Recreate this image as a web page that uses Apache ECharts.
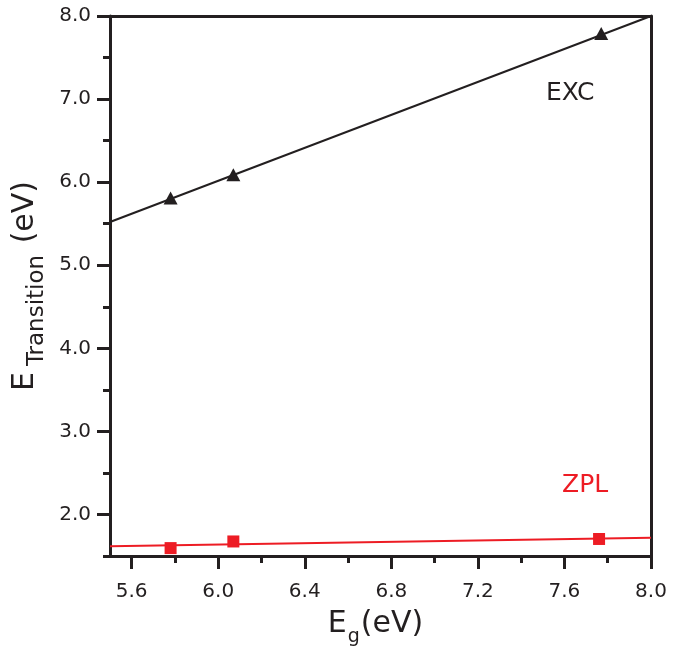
<!DOCTYPE html>
<html>
<head>
<meta charset="utf-8">
<script src="https://cdn.jsdelivr.net/npm/echarts@6/dist/echarts.min.js"></script>
<style>html,body{margin:0;padding:0;background:#fff}#c{width:689px;height:648px}</style>
</head>
<body>
<div id="c"></div>
<script>
// Data
const excX = [5.78, 6.07, 7.77];
const excY = [5.81, 6.09, 7.79];
const zplX = [5.78, 6.07, 7.76];
const zplY = [1.595, 1.675, 1.705];
const fitX = [5.5, 8.0];
const excFitY = [5.52, 8.0];
const zplFitY = [1.617, 1.721];
const xMajorTicks = [5.6, 6.0, 6.4, 6.8, 7.2, 7.6, 8.0];
const xMinorTicks = [5.8, 6.2, 6.6, 7.0, 7.4, 7.8];
const yMajorTicks = [2.0, 3.0, 4.0, 5.0, 6.0, 7.0, 8.0];
const yMinorTicks = [1.5, 2.5, 3.5, 4.5, 5.5, 6.5, 7.5];

const INK = '#231f20';
const RED = '#ed1c24';
const FONT = 'DejaVu Sans';

const zip = (a, b) => a.map((v, i) => [v, b[i]]);

const chart = echarts.init(document.getElementById('c'));
const line = { show: true, lineStyle: { color: INK, width: 3 } };
chart.setOption({
  animation: false,
  grid: { left: 110, right: 38, top: 16, bottom: 92, containLabel: false, outerBoundsMode: 'none' },
  xAxis: [
    { type: 'value', min: 5.5, max: 8.0, position: 'bottom',
      axisLine: { ...line, onZero: false },
      splitLine: { show: false },
      axisTick: { show: true, length: 13, inside: false, customValues: xMajorTicks, lineStyle: { color: INK, width: 3 } },
      axisLabel: { customValues: xMajorTicks, margin: 26, color: INK, fontFamily: FONT, fontSize: 20, formatter: v => v.toFixed(1) },
      name: '{m|E}{s|g}{e|(eV)}', nameLocation: 'middle', nameGap: 51,
      nameTextStyle: { rich: {
        m: { fontFamily: FONT, fontSize: 30, color: INK, verticalAlign: 'bottom', lineHeight: 40, padding: [0, 0, 8, 0] },
        e: { fontFamily: FONT, fontSize: 30, color: INK, verticalAlign: 'bottom', lineHeight: 40, padding: [0, 10, 8, 0] },
        s: { fontFamily: FONT, fontSize: 19, color: INK, verticalAlign: 'bottom', lineHeight: 22, padding: [0, 1, 0, 1] }
      } }
    },
    { type: 'value', min: 5.5, max: 8.0, position: 'bottom',
      axisLine: { show: false, onZero: false }, splitLine: { show: false },
      axisTick: { show: true, length: 7, customValues: xMinorTicks, lineStyle: { color: INK, width: 3 } },
      axisLabel: { show: false } },
    { type: 'value', min: 5.5, max: 8.0, position: 'top',
      axisLine: { ...line, onZero: false }, splitLine: { show: false },
      axisTick: { show: false }, axisLabel: { show: false } }
  ],
  yAxis: [
    { type: 'value', min: 1.5, max: 8.0, position: 'left',
      axisLine: { ...line, onZero: false }, splitLine: { show: false },
      axisTick: { show: true, length: 13, customValues: yMajorTicks, lineStyle: { color: INK, width: 3 } },
      axisLabel: { customValues: yMajorTicks, margin: 19, color: INK, fontFamily: FONT, fontSize: 20, formatter: v => v.toFixed(1) },
      name: '{m|E}{s|Transition}{m| (eV)}', nameLocation: 'middle', nameGap: 61, nameRotate: 90,
      nameTextStyle: { rich: {
        m: { fontFamily: FONT, fontSize: 30, color: INK, verticalAlign: 'bottom', lineHeight: 40, padding: [0, 0, 8, 0] },
        s: { fontFamily: FONT, fontSize: 23, color: INK, verticalAlign: 'bottom', lineHeight: 26, padding: [0, 2, 0, 6] }
      } }
    },
    { type: 'value', min: 1.5, max: 8.0, position: 'left',
      axisLine: { show: false, onZero: false }, splitLine: { show: false },
      axisTick: { show: true, length: 7, customValues: yMinorTicks, lineStyle: { color: INK, width: 3 } },
      axisLabel: { show: false } },
    { type: 'value', min: 1.5, max: 8.0, position: 'right',
      axisLine: { ...line, onZero: false }, splitLine: { show: false },
      axisTick: { show: false }, axisLabel: { show: false } }
  ],
  graphic: [
    { type: 'text', left: 546, top: 81, style: { text: 'EXC', fill: INK, font: '25px "DejaVu Sans"' } },
    { type: 'text', left: 562, top: 473, style: { text: 'ZPL', fill: RED, font: '25px "DejaVu Sans"' } }
  ],
  series: [
    { type: 'line', data: zip(fitX, excFitY), symbol: 'none', lineStyle: { color: INK, width: 2 }, z: 2 },
    { type: 'line', data: zip(fitX, zplFitY), symbol: 'none', lineStyle: { color: RED, width: 2 }, z: 2 },
    { type: 'scatter', data: zip(excX, excY), symbol: 'triangle', symbolSize: [14, 13], itemStyle: { color: INK, opacity: 1 }, z: 3 },
    { type: 'scatter', data: zip(zplX, zplY), symbol: 'rect', symbolSize: 12, itemStyle: { color: RED, opacity: 1 }, z: 3 }
  ]
});
</script>
</body>
</html>
